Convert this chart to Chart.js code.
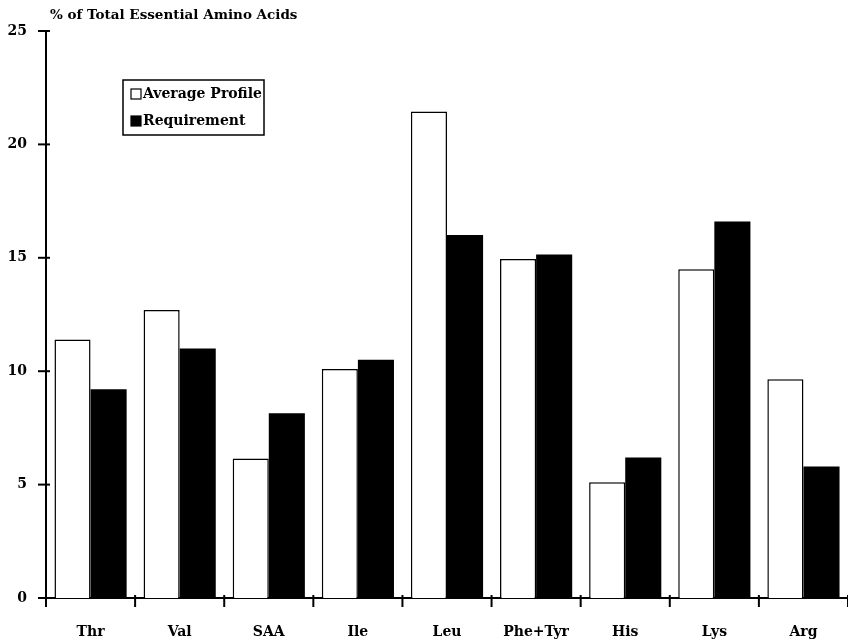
<!DOCTYPE html>
<html>
<head>
<meta charset="utf-8">
<script src="https://cdn.jsdelivr.net/npm/chart.js@4/dist/chart.umd.min.js"></script>
<style>
  html, body { margin: 0; padding: 0; background: #fff; }
  #wrap { width: 848px; height: 642px; }
</style>
</head>
<body>
<div id="wrap"><canvas id="myChart" width="848" height="642"></canvas></div>
<script>
// values
var categories = ['Thr', 'Val', 'SAA', 'Ile', 'Leu', 'Phe+Tyr', 'His', 'Lys', 'Arg'];
var averageProfile = [11.4, 12.7, 6.15, 10.1, 21.45, 14.95, 5.1, 14.5, 9.65];
var requirement = [9.2, 11.0, 8.15, 10.5, 16.0, 15.15, 6.2, 16.6, 5.8];
var yTicks = [0, 5, 10, 15, 20, 25];
var yTitle = '% of Total Essential Amino Acids';

var serif = 'DejaVu Serif';

// tick marks that cross the axis lines, like the original
var crossTicks = {
  id: 'crossTicks',
  afterDraw: function (chart) {
    var ctx = chart.ctx;
    var x = chart.scales.x, y = chart.scales.y;
    var area = chart.chartArea;
    ctx.save();
    ctx.strokeStyle = '#000';
    ctx.lineWidth = 2;
    yTicks.forEach(function (v) {
      var py = y.getPixelForValue(v);
      ctx.beginPath();
      ctx.moveTo(area.left - 8, py);
      ctx.lineTo(area.left + 4, py);
      ctx.stroke();
    });
    var step = x.width / categories.length;
    for (var i = 0; i <= categories.length; i++) {
      var px = x.getPixelForValue(0) - step / 2 + i * step;
      ctx.beginPath();
      ctx.moveTo(px, area.bottom - 3);
      ctx.lineTo(px, area.bottom + 9);
      ctx.stroke();
    }
    ctx.restore();
  }
};

// axis caption above the y axis
var topCaption = {
  id: 'topCaption',
  afterDraw: function (chart) {
    var ctx = chart.ctx;
    ctx.save();
    ctx.fillStyle = '#000';
    ctx.font = 'bold 13.5px ' + serif;
    ctx.textAlign = 'left';
    ctx.textBaseline = 'middle';
    ctx.fillText(yTitle, chart.chartArea.left + 4, 15);
    ctx.restore();
  }
};

// boxed legend inside the plot
var boxLegend = {
  id: 'boxLegend',
  afterDraw: function (chart) {
    var ctx = chart.ctx;
    var bx = 123, by = 80, bw = 141, bh = 55;
    ctx.save();
    ctx.strokeStyle = '#000';
    ctx.lineWidth = 1.5;
    ctx.strokeRect(bx, by, bw, bh);
    ctx.font = 'bold 14px ' + serif;
    ctx.textBaseline = 'middle';
    ctx.textAlign = 'left';
    chart.data.datasets.forEach(function (ds, i) {
      var cy = by + 14 + i * 27;
      ctx.fillStyle = ds.backgroundColor;
      ctx.fillRect(131, cy - 5, 10, 10);
      ctx.lineWidth = 1.2;
      ctx.strokeRect(131, cy - 5, 10, 10);
      ctx.fillStyle = '#000';
      ctx.fillText(ds.label, 143, cy);
    });
    ctx.restore();
  }
};

var ctx = document.getElementById('myChart').getContext('2d');
var myChart = new Chart(ctx, {
  type: 'bar',
  data: {
    labels: categories,
    datasets: [
      {
        label: 'Average Profile',
        data: averageProfile,
        backgroundColor: '#ffffff',
        borderColor: '#000000',
        borderWidth: 1.5,
        borderSkipped: 'bottom'
      },
      {
        label: 'Requirement',
        data: requirement,
        backgroundColor: '#000000',
        borderColor: '#000000',
        borderWidth: 0
      }
    ]
  },
  options: {
    responsive: false,
    animation: false,
    devicePixelRatio: 1,
    layout: { padding: { top: 31, right: 0, left: 0, bottom: 0 } },
    datasets: { bar: { barPercentage: 1.0, categoryPercentage: 0.81 } },
    plugins: {
      legend: { display: false },
      title: { display: false },
      tooltip: { enabled: false }
    },
    scales: {
      x: {
        grid: { display: false, drawTicks: false },
        border: { display: true, color: '#000', width: 2 },
        ticks: {
          color: '#000',
          padding: 26,
          maxRotation: 0,
          autoSkip: false,
          font: { family: serif, weight: 'bold', size: 14 }
        },
        afterFit: function (scale) { scale.height = 44; }
      },
      y: {
        min: 0,
        max: 25,
        grid: { display: false, drawTicks: false },
        border: { display: true, color: '#000', width: 2 },
        ticks: {
          stepSize: 5,
          color: '#000',
          padding: 19,
          font: { family: serif, weight: 'bold', size: 14 }
        },
        afterFit: function (scale) { scale.width = 46; }
      }
    }
  },
  plugins: [crossTicks, topCaption, boxLegend]
});
</script>
</body>
</html>
